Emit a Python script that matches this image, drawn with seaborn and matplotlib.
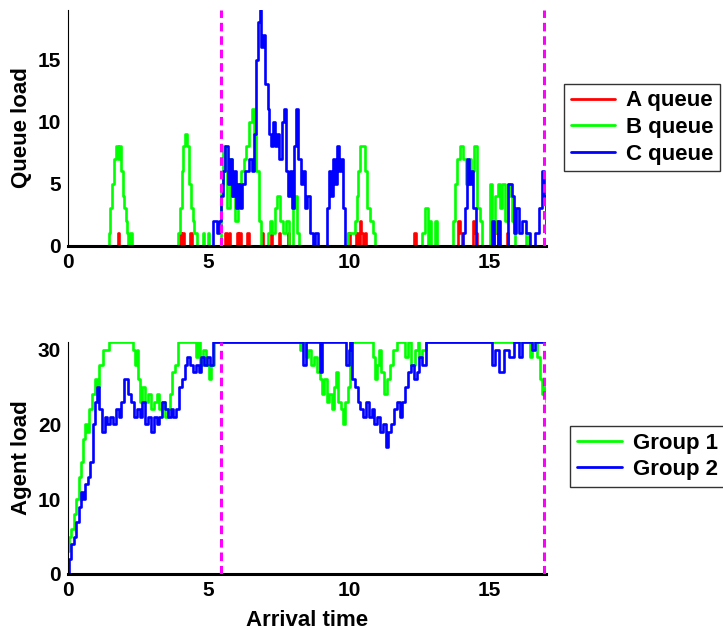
import seaborn as sns
import matplotlib.pyplot as plt
import pandas as pd

# step data: (arrival time, load)
a_queue = [(0, 0), (1.78, 1), (1.83, 0), (3.97, 1), (4.02, 0), (4.06, 1), (4.12, 0), (4.35, 1), (4.4, 0),
           (5.58, 1), (5.65, 0), (5.72, 1), (5.77, 0), (6.0, 1), (6.05, 0), (6.1, 1), (6.15, 0),
           (6.38, 1), (6.45, 0), (6.9, 1), (6.95, 0), (7.22, 1), (7.27, 0), (7.5, 1), (7.55, 0),
           (7.82, 1), (7.87, 0), (9.97, 1), (10.02, 0), (10.25, 1), (10.3, 0), (10.38, 2), (10.42, 1),
           (10.5, 0), (10.55, 1), (10.6, 0), (12.3, 1), (12.38, 0), (13.88, 2), (13.95, 1), (14.0, 0),
           (14.4, 2), (14.45, 1), (14.55, 0), (15.15, 1), (15.22, 2), (15.28, 0), (15.6, 1), (15.65, 0),
           (17.0, 0)]
b_queue = [(0, 0), (1.45, 1), (1.5, 3), (1.58, 5), (1.65, 7), (1.7, 8), (1.78, 7), (1.83, 8), (1.9, 6),
           (1.95, 4), (2.0, 3), (2.05, 2), (2.1, 1), (2.15, 0), (2.2, 1), (2.27, 0),
           (3.92, 1), (3.98, 3), (4.05, 6), (4.1, 8), (4.17, 9), (4.25, 8), (4.32, 5), (4.38, 3),
           (4.45, 2), (4.5, 1), (4.58, 0), (4.8, 1), (4.85, 0), (4.98, 1), (5.03, 0),
           (5.43, 5), (5.5, 8), (5.58, 6), (5.65, 3), (5.75, 7), (5.85, 4), (5.95, 2), (6.05, 5),
           (6.15, 6), (6.25, 7), (6.35, 8), (6.45, 10), (6.55, 11), (6.6, 9), (6.68, 6), (6.78, 2),
           (6.85, 0), (7.1, 1), (7.18, 2), (7.27, 1), (7.35, 3), (7.45, 4), (7.55, 2), (7.65, 1),
           (7.75, 2), (7.85, 0), (8.0, 3), (8.08, 4), (8.15, 1), (8.22, 0),
           (9.95, 1), (10.2, 2), (10.27, 4), (10.33, 6), (10.4, 8), (10.55, 6), (10.62, 3),
           (10.75, 2), (10.85, 1), (10.92, 0),
           (12.6, 1), (12.7, 3), (12.8, 0), (12.85, 2), (12.92, 0), (13.05, 2), (13.12, 0),
           (13.7, 2), (13.75, 5), (13.85, 7), (13.95, 8), (14.05, 7), (14.15, 5), (14.25, 7),
           (14.35, 6), (14.45, 8), (14.55, 3), (14.65, 2), (14.72, 0),
           (15.0, 5), (15.08, 2), (15.15, 1), (15.2, 4), (15.28, 5), (15.38, 3), (15.45, 5),
           (15.55, 2), (15.65, 5), (15.72, 4), (15.8, 2), (15.9, 0), (16.3, 1), (16.4, 0), (17.0, 0)]
c_queue = [(0, 0), (5.15, 2), (5.3, 1), (5.38, 2), (5.45, 4), (5.52, 6), (5.6, 8), (5.68, 5), (5.75, 7),
           (5.82, 4), (5.9, 6), (5.97, 3), (6.05, 5), (6.12, 3), (6.2, 5), (6.3, 6), (6.45, 7),
           (6.55, 6), (6.62, 9), (6.68, 15), (6.75, 18), (6.82, 19), (6.88, 16), (6.95, 17),
           (7.02, 13), (7.1, 11), (7.15, 9), (7.22, 8), (7.3, 10), (7.38, 8), (7.45, 9), (7.52, 7),
           (7.6, 10), (7.7, 11), (7.77, 6), (7.83, 4), (7.9, 6), (7.97, 3), (8.05, 8), (8.12, 11),
           (8.2, 7), (8.28, 5), (8.35, 6), (8.42, 3), (8.5, 4), (8.6, 1), (8.7, 0), (8.8, 1), (8.88, 0),
           (9.2, 3), (9.28, 6), (9.35, 4), (9.42, 7), (9.5, 5), (9.58, 8), (9.65, 6), (9.72, 7),
           (9.8, 3), (9.85, 0), (14.05, 1), (14.12, 3), (14.2, 7), (14.28, 5), (14.35, 6),
           (14.42, 3), (14.5, 0), (15.08, 2), (15.15, 0), (15.3, 2), (15.38, 0), (15.65, 5),
           (15.78, 4), (15.88, 1), (15.95, 3), (16.05, 1), (16.15, 2), (16.3, 1), (16.45, 0),
           (16.6, 1), (16.75, 3), (16.85, 6), (16.92, 4), (17.0, 1)]

group_1 = [(0, 3), (0.05, 5), (0.12, 6), (0.2, 8), (0.28, 10), (0.38, 13), (0.45, 15), (0.55, 18),
           (0.6, 20), (0.68, 19), (0.75, 22), (0.85, 24), (0.95, 26), (1.05, 25), (1.12, 28),
           (1.25, 30), (1.45, 31), (2.3, 30), (2.38, 28), (2.45, 30), (2.5, 26), (2.55, 23),
           (2.65, 25), (2.75, 23), (2.85, 24), (2.95, 22), (3.05, 23), (3.15, 24), (3.25, 22),
           (3.35, 23), (3.45, 21), (3.55, 22), (3.62, 24), (3.7, 27), (3.8, 28), (3.9, 31),
           (4.55, 29), (4.62, 31), (4.7, 28), (4.8, 30), (4.9, 28), (5.0, 26), (5.08, 28), (5.18, 31),
           (8.25, 30), (8.32, 31), (8.45, 29), (8.55, 30), (8.65, 28), (8.75, 29), (8.85, 27),
           (8.95, 26), (9.05, 24), (9.12, 26), (9.2, 23), (9.28, 24), (9.38, 22), (9.45, 25),
           (9.55, 27), (9.62, 23), (9.7, 22), (9.78, 20), (9.85, 23), (9.95, 25), (10.05, 31),
           (10.85, 29), (10.92, 26), (11.0, 28), (11.08, 30), (11.15, 27), (11.25, 24), (11.35, 26),
           (11.45, 28), (11.55, 30), (11.7, 31), (12.0, 29), (12.1, 31), (12.2, 28), (12.35, 30),
           (12.45, 31), (12.5, 29), (12.6, 30), (12.75, 31), (16.45, 29), (16.52, 31), (16.7, 29),
           (16.78, 26), (16.88, 24), (16.95, 25), (17.0, 23)]
group_2 = [(0, 0), (0.05, 2), (0.12, 4), (0.2, 5), (0.3, 7), (0.4, 9), (0.48, 11), (0.55, 10),
           (0.62, 12), (0.72, 13), (0.8, 15), (0.88, 20), (0.95, 23), (1.05, 25), (1.12, 22),
           (1.2, 19), (1.3, 21), (1.4, 20), (1.5, 21), (1.6, 20), (1.7, 22), (1.8, 21), (1.9, 23),
           (2.0, 26), (2.12, 24), (2.25, 23), (2.35, 21), (2.45, 22), (2.55, 21), (2.65, 23),
           (2.75, 20), (2.85, 21), (2.95, 19), (3.05, 21), (3.15, 20), (3.25, 21), (3.35, 23),
           (3.45, 22), (3.55, 21), (3.65, 22), (3.75, 21), (3.85, 22), (3.95, 25), (4.05, 26),
           (4.15, 28), (4.25, 29), (4.35, 28), (4.45, 27), (4.55, 28), (4.65, 27), (4.75, 29),
           (4.85, 28), (4.95, 29), (5.05, 28), (5.15, 31), (8.35, 28), (8.45, 31), (8.95, 27),
           (9.05, 31), (9.9, 28), (9.98, 30), (10.05, 31), (10.12, 26), (10.2, 25), (10.3, 23),
           (10.4, 22), (10.5, 21), (10.6, 23), (10.7, 21), (10.8, 22), (10.9, 20), (11.0, 21),
           (11.1, 19), (11.2, 20), (11.3, 17), (11.4, 19), (11.5, 20), (11.6, 22), (11.7, 23),
           (11.8, 21), (11.9, 23), (12.0, 25), (12.1, 27), (12.2, 28), (12.3, 26), (12.4, 27),
           (12.5, 29), (12.6, 28), (12.75, 31), (15.1, 28), (15.2, 30), (15.35, 27), (15.5, 30),
           (15.7, 29), (15.85, 31), (16.05, 29), (16.15, 31), (16.5, 30), (16.6, 31), (17.0, 31)]

markers = [5.43, 16.95]

queue_names = ['A queue', 'B queue', 'C queue']
queue_colors = ['#ff0000', '#00ff00', '#0000ff']
group_names = ['Group 1', 'Group 2']
group_colors = ['#00ff00', '#0000ff']


def to_frame(series, names):
    parts = []
    for name, pts in zip(names, series):
        d = pd.DataFrame(pts, columns=['time', 'load'])
        d['series'] = name
        parts.append(d)
    return pd.concat(parts, ignore_index=True)


queues = to_frame([a_queue, b_queue, c_queue], queue_names)
groups = to_frame([group_1, group_2], group_names)

sns.set_style('white')
plt.rcParams['font.family'] = ['Liberation Sans', 'DejaVu Sans']
plt.rcParams['font.weight'] = 'bold'
plt.rcParams['xtick.direction'] = 'in'
plt.rcParams['ytick.direction'] = 'in'
for key in ['text.color', 'axes.labelcolor', 'xtick.color', 'ytick.color', 'axes.edgecolor']:
    plt.rcParams[key] = 'black'

fig = plt.figure(figsize=(7.23, 6.3), dpi=100)
ax1 = fig.add_axes([0.094, 0.610, 0.661, 0.374])
ax2 = fig.add_axes([0.094, 0.089, 0.661, 0.368])

sns.lineplot(data=queues, x='time', y='load', hue='series', palette=queue_colors,
             estimator=None, sort=False, drawstyle='steps-post', linewidth=1.9, ax=ax1)
sns.lineplot(data=groups, x='time', y='load', hue='series', palette=group_colors,
             estimator=None, sort=False, drawstyle='steps-post', linewidth=1.9, ax=ax2)

for ax, ymax in [(ax1, 19), (ax2, 31)]:
    for m in markers:
        ax.axvline(m, color='#ff00ff', linestyle=(0, (2.8, 1.6)), linewidth=2.2, zorder=3)
    ax.set_xlim(0, 17)
    ax.set_ylim(0, ymax)
    ax.set_xticks([0, 5, 10, 15])
    sns.despine(ax=ax)
    ax.spines['left'].set_linewidth(0.8)
    ax.spines['bottom'].set_linewidth(2.2)
    ax.tick_params(length=5, width=0.8, labelsize=15, pad=5, colors='black')
    for lab in ax.get_xticklabels() + ax.get_yticklabels():
        lab.set_fontweight('bold')

ax1.set_yticks([0, 5, 10, 15])
ax2.set_yticks([0, 10, 20, 30])
ax1.set_xlabel('')
ax1.set_ylabel('Queue load', fontsize=16, fontweight='bold', labelpad=4, color='black')
ax2.set_ylabel('Agent load', fontsize=16, fontweight='bold', labelpad=4, color='black')
ax2.set_xlabel('Arrival time', fontsize=16, fontweight='bold', labelpad=7, color='black')

leg1 = ax1.legend(loc='upper left', bbox_to_anchor=(0.780, 0.867), bbox_transform=fig.transFigure,
                  frameon=True, fancybox=False, edgecolor='black', fontsize=16,
                  handlelength=2.0, handletextpad=0.5, borderpad=0.3, labelspacing=0.25,
                  borderaxespad=0)
leg2 = ax2.legend(loc='upper left', bbox_to_anchor=(0.789, 0.324), bbox_transform=fig.transFigure,
                  frameon=True, fancybox=False, edgecolor='black', fontsize=16,
                  handlelength=2.0, handletextpad=0.5, borderpad=0.3, labelspacing=0.25,
                  borderaxespad=0)
for leg in (leg1, leg2):
    leg.get_frame().set_linewidth(1)
    for t in leg.get_texts():
        t.set_fontweight('bold')
        t.set_color('black')
    for h in leg.get_lines():
        h.set_linewidth(2)

fig.savefig('out.png', dpi=100)
